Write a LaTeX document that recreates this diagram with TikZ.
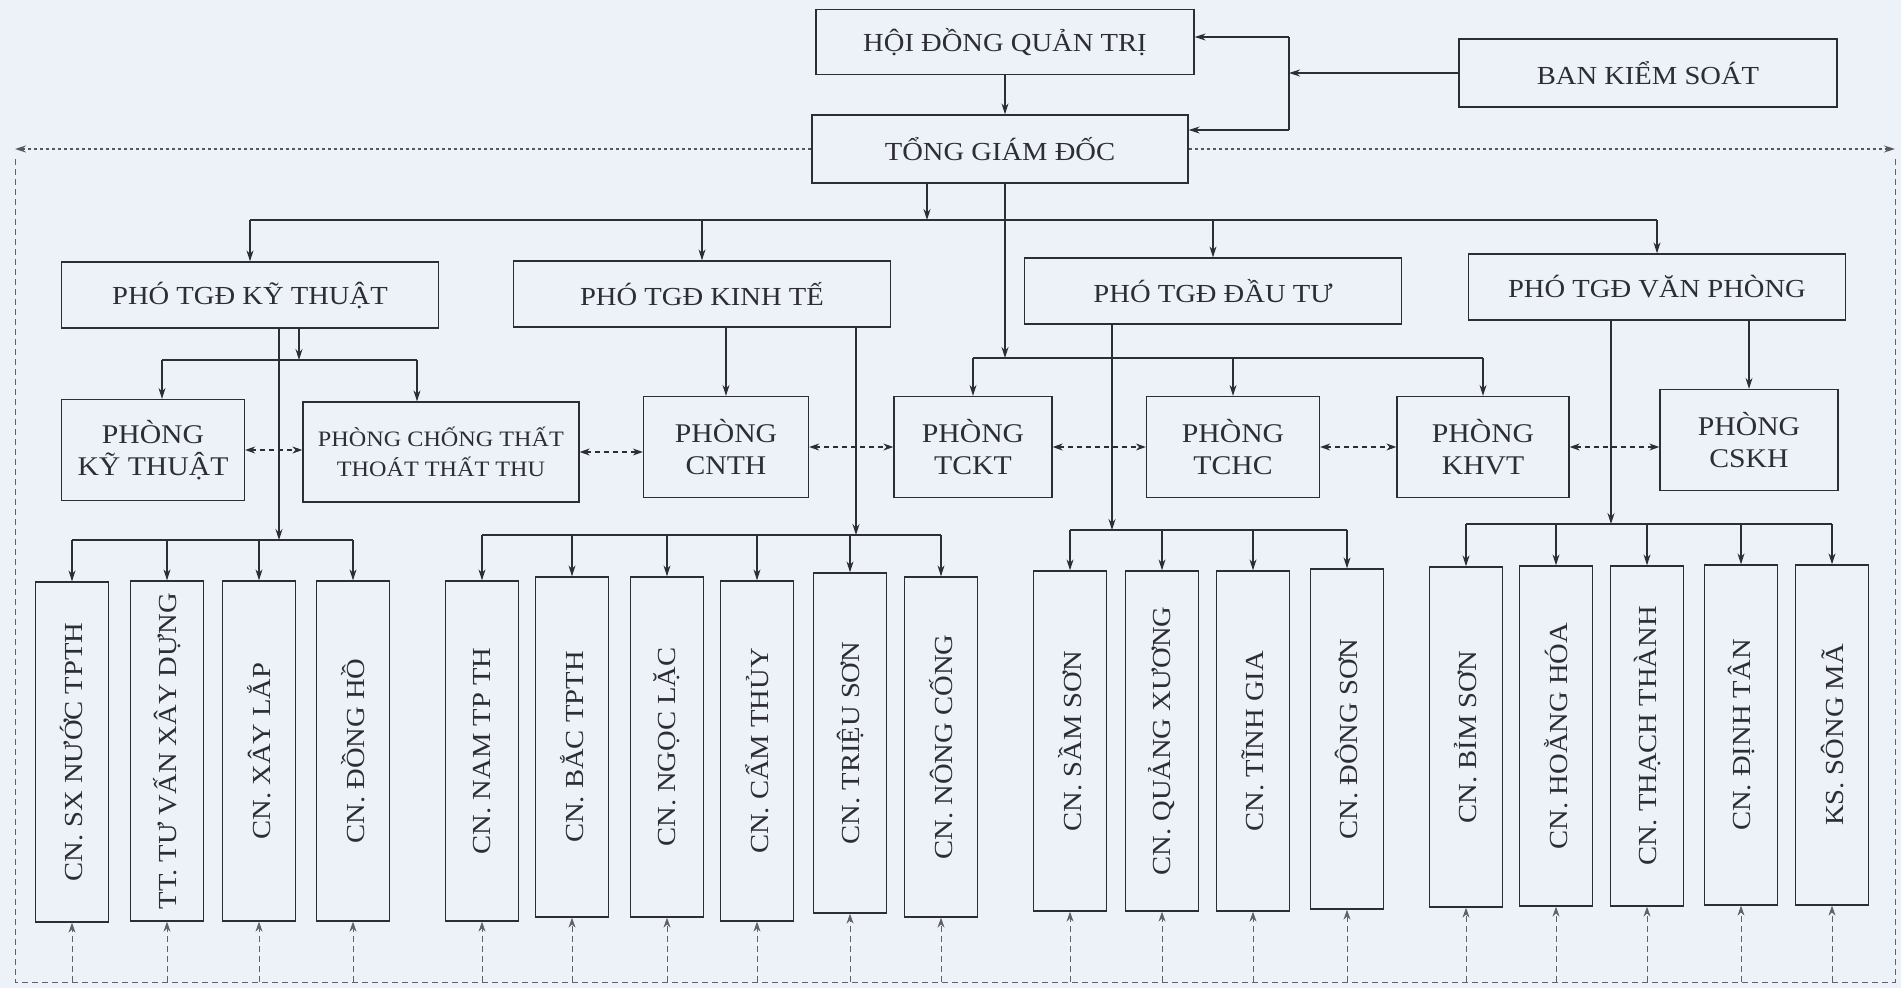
\documentclass[tikz,border=0pt]{standalone}
\usepackage{fontspec}
\setmainfont[FakeStretch=1.1]{Liberation Serif}
\usetikzlibrary{arrows.meta}
\definecolor{paper}{RGB}{237,242,249}
\definecolor{ink}{RGB}{45,45,52}
\tikzset{
  box/.style={draw=ink, line width=1.3pt, text=ink, align=center, inner sep=1pt,
    font=\fontsize{26}{30}\selectfont},
  phong/.style={box, minimum height=101pt, font=\fontsize{27}{32}\selectfont},
  vbox/.style={box, minimum width=73pt, minimum height=340pt, font=\fontsize{26}{30}\selectfont},
  link/.style={draw=ink, line width=1.2pt, -{Stealth[length=11pt,width=7pt]}},
  bus/.style={draw=ink, line width=1.4pt},
  dbl/.style={draw=ink, line width=1.2pt, dash pattern=on 5pt off 4pt,
    {Stealth[length=10pt,width=7pt]}-{Stealth[length=10pt,width=7pt]}},
  loopline/.style={draw=ink!75, line width=1pt, dash pattern=on 6pt off 4pt},
  dotline/.style={draw=ink!80, line width=1.4pt, dash pattern=on 3pt off 3pt,
    -{Stealth[length=11pt,width=7pt]}},
}
\begin{document}
\begin{tikzpicture}[x=1pt,y=-1pt]
  \fill[paper] (0,0) rectangle (1901,988);
  \useasboundingbox (0,0) rectangle (1901,988);
  % top
  \node[box, minimum width=378pt, minimum height=65pt] (hdqt) at (1005,42) {HỘI ĐỒNG QUẢN TRỊ};
  \node[box, minimum width=378pt, minimum height=68pt] (bks) at (1648,73) {BAN KIỂM SOÁT};
  \node[box, minimum width=376pt, minimum height=68pt] (tgd) at (1000,149) {TỔNG GIÁM ĐỐC};
  \foreach \n/\x/\y/\t in {pkt/250/295/KỸ THUẬT, pkte/702/294/KINH TẾ, pdt/1213/291/ĐẦU TƯ, pvp/1657/287/VĂN PHÒNG}
    \node[box, minimum width=377pt, minimum height=66pt] (\n) at (\x,\y) {PHÓ TGĐ \t};
  % phong
  \foreach \n/\x/\y/\w/\t in {pkyt/153/450/183/KỸ THUẬT, pcnth/726/447/165/CNTH, ptckt/973/447/158/TCKT,
      ptchc/1233/447/173/TCHC, pkhvt/1483/447/172/KHVT, pcskh/1749/440/178/CSKH}
    \node[phong, minimum width=\w pt] (\n) at (\x,\y) {PHÒNG\\\t};
  \node[phong, minimum width=276pt, minimum height=100pt, font=\fontsize{22}{30}\selectfont] (pchong) at (441,452)
    {PHÒNG CHỐNG THẤT\\THOÁT THẤT THU};
  % chi nhanh
  \foreach \n/\x/\y/\t in {b1/72/752/CN. SX NƯỚC TPTH, b2/167/751/TT. TƯ VẤN XÂY DỰNG, b3/259/751/CN. XÂY LẮP,
      b4/353/751/CN. ĐỒNG HỒ, b5/482/751/CN. NAM TP TH, b6/572/747/CN. BẮC TPTH, b7/667/747/CN. NGỌC LẶC,
      b8/757/751/CN. CẨM THỦY, b9/850/743/CN. TRIỆU SƠN, b10/941/747/CN. NÔNG CỐNG,
      b11/1070/741/CN. SẦM SƠN, b12/1162/741/CN. QUẢNG XƯƠNG, b13/1253/741/CN. TĨNH GIA, b14/1347/739/CN. ĐÔNG SƠN,
      b15/1466/737/CN. BỈM SƠN, b16/1556/736/CN. HOẰNG HÓA, b17/1647/736/CN. THẠCH THÀNH,
      b18/1741/735/CN. ĐỊNH TÂN, b19/1832/735/KS. SÔNG MÃ}
    \node[vbox] (\n) at (\x,\y) {\rotatebox{90}{\t}};

  % ban kiem soat
  \coordinate (k1) at (1289,37);
  \coordinate (k2) at (1289,130);
  \draw[bus] (k1) -- (k2);
  \draw[link] (bks.west) -- (bks.west -| k1);
  \draw[link] (k1) -- (k1 -| hdqt.east);
  \draw[link] (k2) -- (k2 -| tgd.east);
  \draw[link] (hdqt.south) -- (hdqt.south |- tgd.north);
  % tong giam doc
  \coordinate (s) at (927,220);
  \coordinate (t) at (1005,358);
  \draw[link] (tgd.south -| s) -- (s);
  \draw[bus] (pkt.north |- s) -- (pvp.north |- s);
  \foreach \n in {pkt,pkte,pdt,pvp}
    \draw[link] (\n.north |- s) -- (\n.north);
  \draw[link] (tgd.south -| t) -- (t);
  \draw[bus] (ptckt.north |- t) -- (pkhvt.north |- t);
  \foreach \n in {ptckt,ptchc,pkhvt}
    \draw[link] (\n.north |- t) -- (\n.north);
  % pho tgd ky thuat
  \coordinate (u1) at (299,360);
  \coordinate (u1a) at (162,360);
  \coordinate (u1b) at (417,360);
  \draw[link] (pkt.south -| u1) -- (u1);
  \draw[bus] (u1a) -- (u1b);
  \draw[link] (u1a) -- (u1a |- pkyt.north);
  \draw[link] (u1b) -- (u1b |- pchong.north);
  % pho tgd kinh te, van phong
  \draw[link] (pkte.south -| pcnth.north) -- (pcnth.north);
  \draw[link] (pvp.south -| pcskh.north) -- (pcskh.north);
  % xuong chi nhanh
  \coordinate (f1) at (279,540);
  \coordinate (f2) at (856,535);
  \coordinate (f3) at (1112,530);
  \coordinate (f4) at (1611,524);
  \draw[link] (pkt.south -| f1) -- (f1);
  \draw[link] (pkte.south -| f2) -- (f2);
  \draw[link] (pdt.south -| f3) -- (f3);
  \draw[link] (pvp.south -| f4) -- (f4);
  \draw[bus] (b1.north |- f1) -- (b4.north |- f1);
  \draw[bus] (b5.north |- f2) -- (b10.north |- f2);
  \draw[bus] (b11.north |- f3) -- (b14.north |- f3);
  \draw[bus] (b15.north |- f4) -- (b19.north |- f4);
  \foreach \n in {b1,b2,b3,b4} \draw[link] (\n.north |- f1) -- (\n.north);
  \foreach \n in {b5,b6,b7,b8,b9,b10} \draw[link] (\n.north |- f2) -- (\n.north);
  \foreach \n in {b11,b12,b13,b14} \draw[link] (\n.north |- f3) -- (\n.north);
  \foreach \n in {b15,b16,b17,b18,b19} \draw[link] (\n.north |- f4) -- (\n.north);
  % phoi hop giua cac phong
  \foreach \a/\b in {pkyt/pchong, pchong/pcnth, pcnth/ptckt, ptckt/ptchc, ptchc/pkhvt, pkhvt/pcskh}
    \draw[dbl] (\a.east) -- (\a.east -| \b.west);
  % vong kiem tra
  \coordinate (lt) at (15,149);
  \coordinate (rt) at (1895,149);
  \coordinate (lb) at (15,982);
  \coordinate (rb) at (1895,982);
  \draw[dotline] (tgd.west) -- (lt);
  \draw[dotline] (tgd.east) -- (rt);
  \draw[loopline] ([yshift=-10pt]lt) -- (lb) -- (rb) -- ([yshift=-10pt]rt);
  \foreach \n in {b1,b2,b3,b4,b5,b6,b7,b8,b9,b10,b11,b12,b13,b14,b15,b16,b17,b18,b19}
    \draw[loopline, -{Stealth[length=10pt,width=7pt]}] (\n.south |- lb) -- (\n.south);
\end{tikzpicture}
\end{document}
